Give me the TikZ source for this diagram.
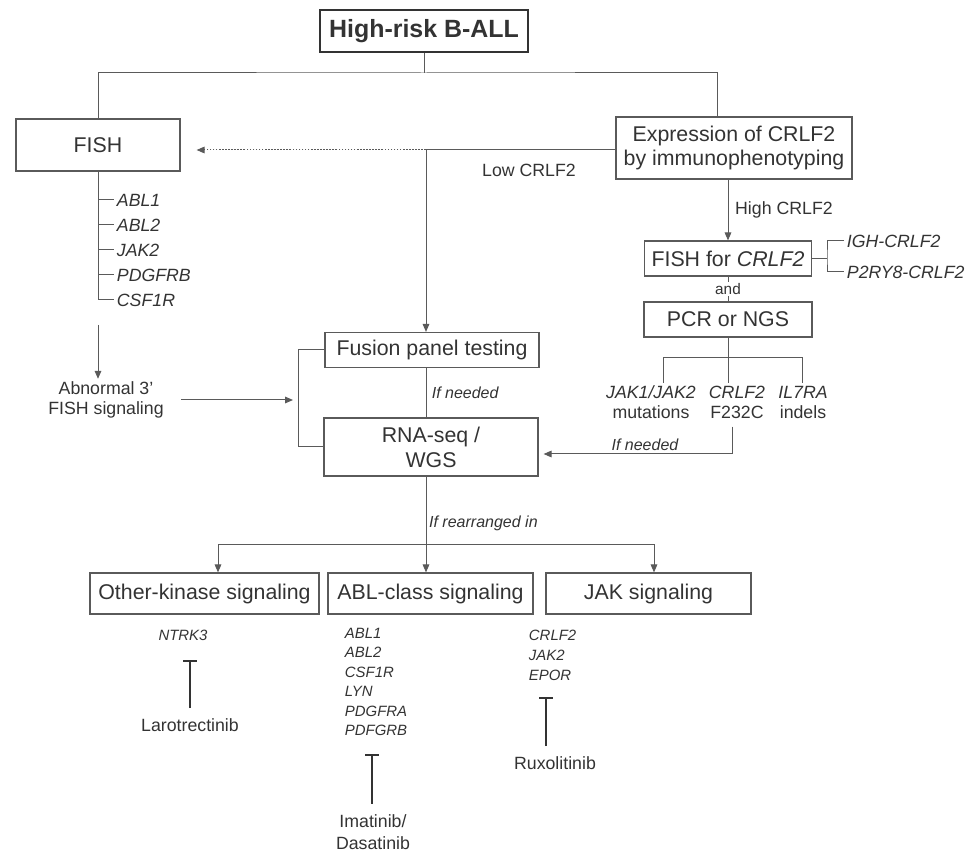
\documentclass[tikz,border=0pt]{standalone}
\usepackage{fontspec}
\setmainfont{Liberation Sans}
\usetikzlibrary{positioning,arrows.meta}
\definecolor{linegray}{HTML}{5A5A5A}
\definecolor{txtgray}{HTML}{333333}

\begin{document}
\begin{tikzpicture}[x=0.75pt, y=-0.75pt,
			boxsize/.style 2 args={minimum width=#1*0.75pt, minimum height=#2*0.75pt},
			box/.style={draw=linegray, line width=0.9pt, rectangle, inner sep=0pt, align=center, text=txtgray, font=\fontsize{16}{18.5}\selectfont},
			lbl/.style={text=txtgray, align=center, inner sep=2pt, font=\fontsize{13.3}{15}\selectfont},
			gene/.style={lbl, font=\fontsize{13.3}{15}\selectfont\itshape},
			small/.style={lbl, font=\fontsize{11.2}{14.6}\selectfont\itshape},
			ifl/.style={lbl, font=\fontsize{12}{14}\selectfont\itshape},
			line/.style={draw=linegray, line width=0.75pt},
			arrow/.style={line, -{Triangle[length=6pt, width=5pt]}},
			inhib/.style={draw=txtgray, line width=1.8pt, shorten <=5.5pt, -{Bar[width=10pt]}}]
			
			\useasboundingbox (0,0) rectangle (972,852);
			
			% boxes
			\node[box, boxsize={208}{42}, line width=1.5pt, draw=txtgray, font=\fontsize{18.7}{22}\selectfont\bfseries] (title) at (424,31) {High-risk B-ALL};
			\node[box, boxsize={164}{52}] (fish) at (98,145) {FISH};
			\node[box, boxsize={236}{62}] (expr) at (734,148) {Expression of CRLF2\\by immunophenotyping};
			\node[box, boxsize={214}{35}] (fusion) at (432,350) {Fusion panel testing};
			\node[box, boxsize={214}{58}, font=\fontsize{16}{18.8}\selectfont] (rna) at (431,447) {RNA-seq /\\WGS};
			\node[box, boxsize={167}{35}] (fishc) at (728,258.5) {FISH for \textit{CRLF2}};
			\node[box, boxsize={168}{35}] (pcr) at (728,319.5) {PCR or NGS};
			\node[box, boxsize={229}{41}] (other) at (204.5,593.5) {Other-kinase signaling};
			\node[box, boxsize={205}{41}] (abl) at (430.5,593.5) {ABL-class signaling};
			\node[box, boxsize={205}{41}] (jak) at (648.5,593.5) {JAK signaling};
			
			% labels
			\node[lbl] (low) at (529,170) {Low CRLF2};
			\node[lbl] (abn) at (106,400) {Abnormal 3'\\FISH signaling};
			\node[gene, anchor=west] (igh) at (844,241) {IGH-CRLF2};
			\node[gene, anchor=west] (p2y) at (844,272) {P2RY8-CRLF2};
			\node[lbl] (m1) at (651,402) {\textit{JAK1/JAK2}\\mutations};
			\node[lbl] (m2) at (737,402) {\textit{CRLF2}\\F232C};
			\node[lbl] (m3) at (803,402) {\textit{IL7RA}\\indels};
			\foreach \g [count=\i] in {ABL1,ABL2,JAK2,PDGFRB,CSF1R}
				\node[gene, anchor=west] (g\i) at (114,{175+25*\i}) {\g};
			
			% targets and drugs
			\node[small] (ntrk) at (183,635) {NTRK3};
			\node[small, align=left, anchor=west] (ablg) at (342,682) {ABL1\\ABL2\\CSF1R\\LYN\\PDGFRA\\PDFGRB};
			\node[small, align=left, anchor=west, font=\fontsize{11.2}{15}\selectfont\itshape] (jakg) at (526,655) {CRLF2\\JAK2\\EPOR};
			\node[lbl] (lar) at (190,725) {Larotrectinib};
			\node[lbl, font=\fontsize{13.3}{17}\selectfont] (ima) at (373,832) {Imatinib/\\Dasatinib};
			\node[lbl] (rux) at (555,763) {Ruxolitinib};
			
			% junctions
			\coordinate (split) at (424,73);
			\coordinate (exin) at (717,117);
			\coordinate (lowj) at (426,150);
			\coordinate (abtop) at (98,325);
			\coordinate (brk) at (298,400);
			\coordinate (fbr) at (827,258.5);
			\coordinate (bl) at (663,358);
			\coordinate (br) at (802,358);
			\coordinate (ifn) at (732,454);
			\coordinate (bl2) at (218,544);
			\coordinate (br2) at (654,544);
			\coordinate (t1) at (190,660);
			\coordinate (t2) at (372,754);
			\coordinate (t3) at (546,697);
			
			% connectors
			\draw[line] (title) -- (split);
			\draw[line] (fish.north) |- (split) -| (exin);
			\draw[line] (expr.west |- lowj) -- (lowj);
			\draw[arrow] (lowj) -- (lowj |- fusion.north);
			\draw[arrow, dash pattern=on 1.2pt off 1.1pt, shorten >=12pt] (lowj) -- (lowj -| fish.east);
			\draw[line] (fish.south) |- (g5.west);
			\foreach \i in {1,...,4}
				\draw[line] (fish.south |- g\i.west) -- (g\i.west);
			\draw[arrow] (abtop) -- (abtop |- abn.north);
			\draw[arrow, shorten <=11pt, shorten >=3.75pt] (abn.east) -- (abn.east -| brk);
			\draw[line] (fusion.west) -- (fusion.west -| brk) -- (rna.west -| brk) -- (rna.west);
			\draw[line] (lowj |- fusion.south) -- node[ifl, right=2pt] {If needed} (lowj |- rna.north);
			
			\draw[arrow] (expr.south -| fishc.north) -- node[lbl, right=3pt] {High CRLF2} (fishc.north);
			\draw[line] (fishc.east) -- (fbr);
			\draw[line] (igh.west) -| (fbr) |- (p2y.west);
			\draw[line] (fishc) -- node[lbl, fill=white, inner sep=1pt, font=\fontsize{11.5}{13}\selectfont] {and} (pcr);
			\draw[line] (pcr.south) -- (pcr.south |- m2.north);
			\draw[line] (bl |- m1.north) -- (bl) -- (br) -- (br |- m3.north);
			\draw[arrow, shorten <=4pt, shorten >=3.75pt] (m2.south -| ifn) -- (ifn) -- node[ifl, above, pos=0.45] {If needed} (ifn -| rna.east);
			
			\draw[arrow] (lowj |- rna.south) -- node[ifl, right, pos=0.485] {If rearranged in} (lowj |- abl.north);
			\draw[line] (bl2) -- (br2);
			\draw[arrow] (bl2) -- (bl2 |- other.north);
			\draw[arrow] (br2) -- (br2 |- jak.north);
			
			\draw[inhib] (lar.north -| t1) -- (t1);
			\draw[inhib] (ima.north -| t2) -- (t2);
			\draw[inhib] (rux.north -| t3) -- (t3);
			
		\end{tikzpicture}
\end{document}
